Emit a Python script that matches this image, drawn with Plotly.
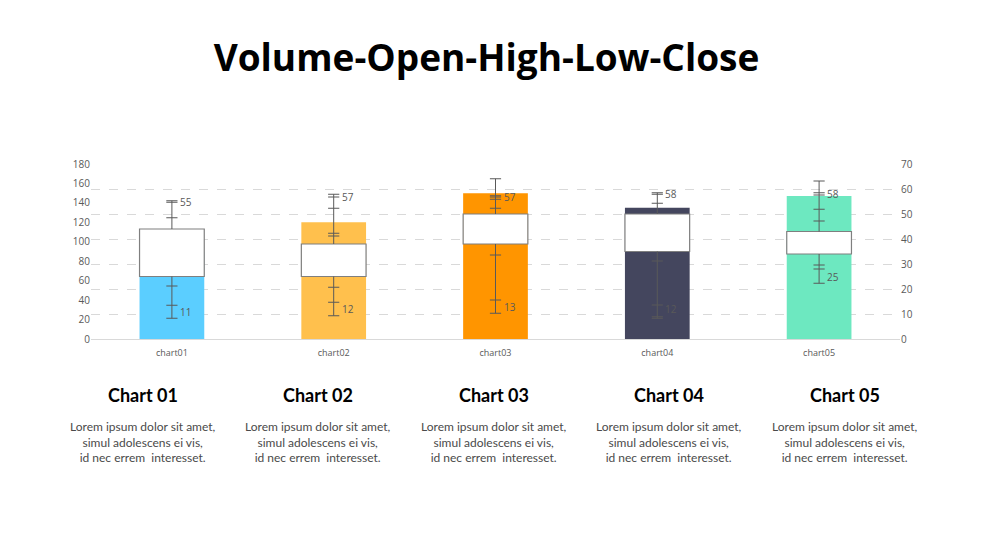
import plotly.graph_objects as go

categories = ["chart01", "chart02", "chart03", "chart04", "chart05"]
volume = [90, 120, 150, 135, 147]
open_ = [25, 25, 38, 35, 34]
close = [44, 38, 50, 50, 43]
high = [55, 57, 57, 58, 58]
low = [11, 12, 13, 12, 25]
whisker_ticks = [
    [55.3, 54.7, 48.5, 21.2, 13.5, 8.3],
    [57.9, 56.8, 52.3, 42.3, 41.2, 20.7, 14.7, 9.3],
    [64.1, 57.3, 56.8, 55.9, 52.3, 33.6, 15.6, 10.3],
    [58.5, 57.9, 54.3, 31.2, 13.6, 8.9, 8.3],
    [63.2, 58.5, 57.6, 51.9, 47.2, 29.6, 28.0, 22.3],
]
colors = ["#5BCEFF", "#FFC04D", "#FF9500", "#44465E", "#6DE8C0"]
headings = ["Chart 01", "Chart 02", "Chart 03", "Chart 04", "Chart 05"]
body = "Lorem ipsum dolor sit amet,<br>simul adolescens ei vis,<br>id nec errem  interesset."

# page offset (browser body margin)
OFF = 8
FW, FH = 988 - OFF, 556 - OFF

fig = go.Figure()

fig.add_trace(go.Bar(x=categories, y=volume, marker=dict(color=colors, line=dict(width=0)),
                     width=0.4, yaxis="y", showlegend=False, hoverinfo="skip"))

base = [min(o, c) for o, c in zip(open_, close)]
span = [abs(c - o) for o, c in zip(open_, close)]
fig.add_trace(go.Bar(x=categories, y=span, base=base, width=0.4, yaxis="y2",
                     marker=dict(color="white", line=dict(color="#7f7f7f", width=1.2)),
                     showlegend=False, hoverinfo="skip"))

wx, wy, tx, ty = [], [], [], []
for cat, ticks, b, s in zip(categories, whisker_ticks, base, span):
    wx += [cat, cat, None, cat, cat, None]
    wy += [max(ticks), b + s, None, b, min(ticks), None]
    tx += [cat] * len(ticks)
    ty += ticks
fig.add_trace(go.Scatter(x=wx, y=wy, mode="lines", yaxis="y2",
                         line=dict(color="#595959", width=1), showlegend=False, hoverinfo="skip"))
fig.add_trace(go.Scatter(x=tx, y=ty, mode="markers", yaxis="y2",
                         marker=dict(symbol="line-ew", size=8, line=dict(color="#595959", width=1)),
                         showlegend=False, hoverinfo="skip"))

anns = []
for cat, h, l in zip(categories, high, low):
    for v in (h, l):
        anns.append(dict(text=str(v), x=cat, y=v, xref="x", yref="y2", showarrow=False,
                         xanchor="left", yanchor="middle", xshift=6,
                         font=dict(family="Open Sans", size=10, color="#595959")))

# Layout in page pixels
L, R = 91 - OFF, 900 - OFF
T, B = 164 - OFF, 339 - OFF
W, H = R - L, B - T
centers_px = [142.5, 318, 493.5, 669, 844.5]
for h, cx in zip(headings, centers_px):
    cx -= OFF
    anns.append(dict(text="<b>" + h + "</b>", x=(cx - L) / W, y=(B - (395 - OFF)) / H,
                     xref="paper", yref="paper", showarrow=False, xanchor="center", yanchor="middle",
                     font=dict(family="Lato", size=18, color="#000000")))
    anns.append(dict(text=body, x=(cx - L) / W, y=(B - (442 - OFF)) / H,
                     xref="paper", yref="paper", showarrow=False, xanchor="center", yanchor="middle",
                     align="center", font=dict(family="Lato", size=12, color="#4a4a4a")))

fig.update_layout(
    width=FW, height=FH,
    margin=dict(l=L, r=FW - R, t=T, b=FH - B),
    paper_bgcolor="white", plot_bgcolor="white",
    barmode="overlay",
    title=dict(text="<b>Volume-Open-High-Low-Close</b>", x=(486.5 - OFF) / FW, y=1 - (58 - OFF) / FH,
               xanchor="center", yanchor="middle",
               font=dict(family="Open Sans", size=37, color="#000000")),
    xaxis=dict(showgrid=False, showline=True, linecolor="#d9d9d9", linewidth=1, ticks="",
               ticklabelstandoff=5,
               tickfont=dict(family="Open Sans", size=9, color="#595959"), zeroline=False),
    yaxis=dict(range=[0, 180], dtick=20, showgrid=False, zeroline=False, showline=False,
               tickfont=dict(family="Open Sans", size=10, color="#595959"), ticks=""),
    yaxis2=dict(range=[0, 70], dtick=10, overlaying="y", side="right", showgrid=True,
                gridcolor="#d9d9d9", griddash="dash", gridwidth=1, zeroline=False,
                tickfont=dict(family="Open Sans", size=10, color="#595959"), ticks=""),
    annotations=anns,
)

fig.write_html("out.html")
